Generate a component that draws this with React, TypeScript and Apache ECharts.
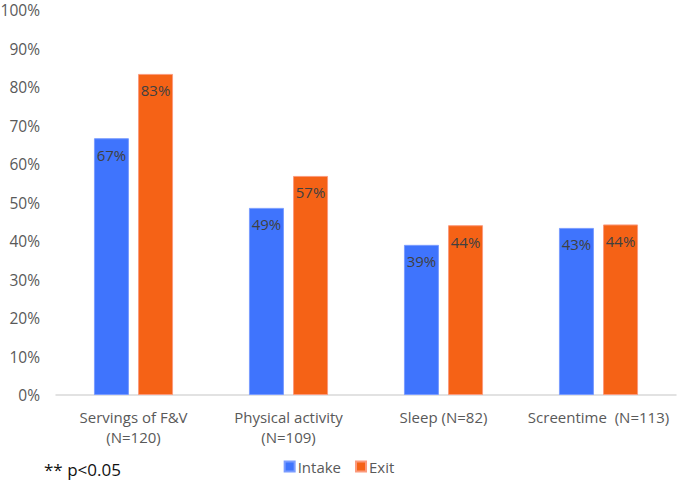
import React, { useEffect, useRef } from "react";
import * as echarts from "echarts";

const categories = ["Servings of F&V\n(N=120)", "Physical activity\n(N=109)", "Sleep (N=82)", "Screentime  (N=113)"];
const intake = [0.667, 0.486, 0.39, 0.434];
const exitVals = [0.834, 0.569, 0.441, 0.443];
const seriesNames = ["Intake", "Exit"];
const footnote = "** p<0.05";

const FONT = "'Open Sans', 'Noto Sans', sans-serif";

export default function App() {
  const ref = useRef<HTMLDivElement>(null);
  useEffect(() => {
    if (!ref.current) return;
    const chart = echarts.init(ref.current, null, { renderer: "svg" });
    const label = {
      show: true,
      position: "insideTop" as const,
      distance: 9,
      color: "#404040",
      fontSize: 15,
      fontFamily: FONT,
      formatter: (p: any) => Math.round(p.value * 100) + "%",
    };
    chart.setOption({
      animation: false,
      textStyle: { fontFamily: FONT },
      grid: { left: 56, right: 2, top: 10, bottom: 93, containLabel: false, outerBoundsMode: "none" },
      legend: {
        data: seriesNames,
        bottom: 9,
        left: "center",
        itemWidth: 10,
        itemHeight: 10,
        itemGap: 14,
        icon: "rect",
        textStyle: { color: "#595959", fontSize: 15, fontFamily: FONT, padding: [0, 0, 0, -2] },
      },
      xAxis: {
        type: "category",
        data: categories,
        axisLine: { show: true, lineStyle: { color: "#d9d9d9", width: 1.5 } },
        axisTick: { show: false },
        axisLabel: { color: "#595959", fontSize: 15, fontFamily: FONT, lineHeight: 20, margin: 12, interval: 0 },
      },
      yAxis: {
        type: "value",
        min: 0,
        max: 1,
        interval: 0.1,
        splitLine: { show: false },
        axisLine: { show: false },
        axisTick: { show: false },
        axisLabel: {
          color: "#595959",
          fontSize: 15.5,
          fontFamily: FONT,
          margin: 16,
          formatter: (v: number) => Math.round(v * 100) + "%",
        },
      },
      graphic: [
        {
          type: "text",
          left: 44,
          top: 461,
          style: { text: footnote, fill: "#111", fontSize: 17, fontFamily: FONT },
        },
      ],
      series: [
        {
          name: seriesNames[0],
          type: "bar",
          data: intake,
          barWidth: 35,
          barGap: "26%",
          itemStyle: { color: "#3f74fd", borderColor: "#7a9cff", borderWidth: 1 },
          label,
        },
        {
          name: seriesNames[1],
          type: "bar",
          data: exitVals,
          barWidth: 35,
          itemStyle: { color: "#f56216", borderColor: "#fb9a7c", borderWidth: 1 },
          label,
        },
      ],
    });
    return () => chart.dispose();
  }, []);
  return <div ref={ref} style={{ width: 678, height: 488, position: "absolute", left: 0, top: 0 }} />;
}
